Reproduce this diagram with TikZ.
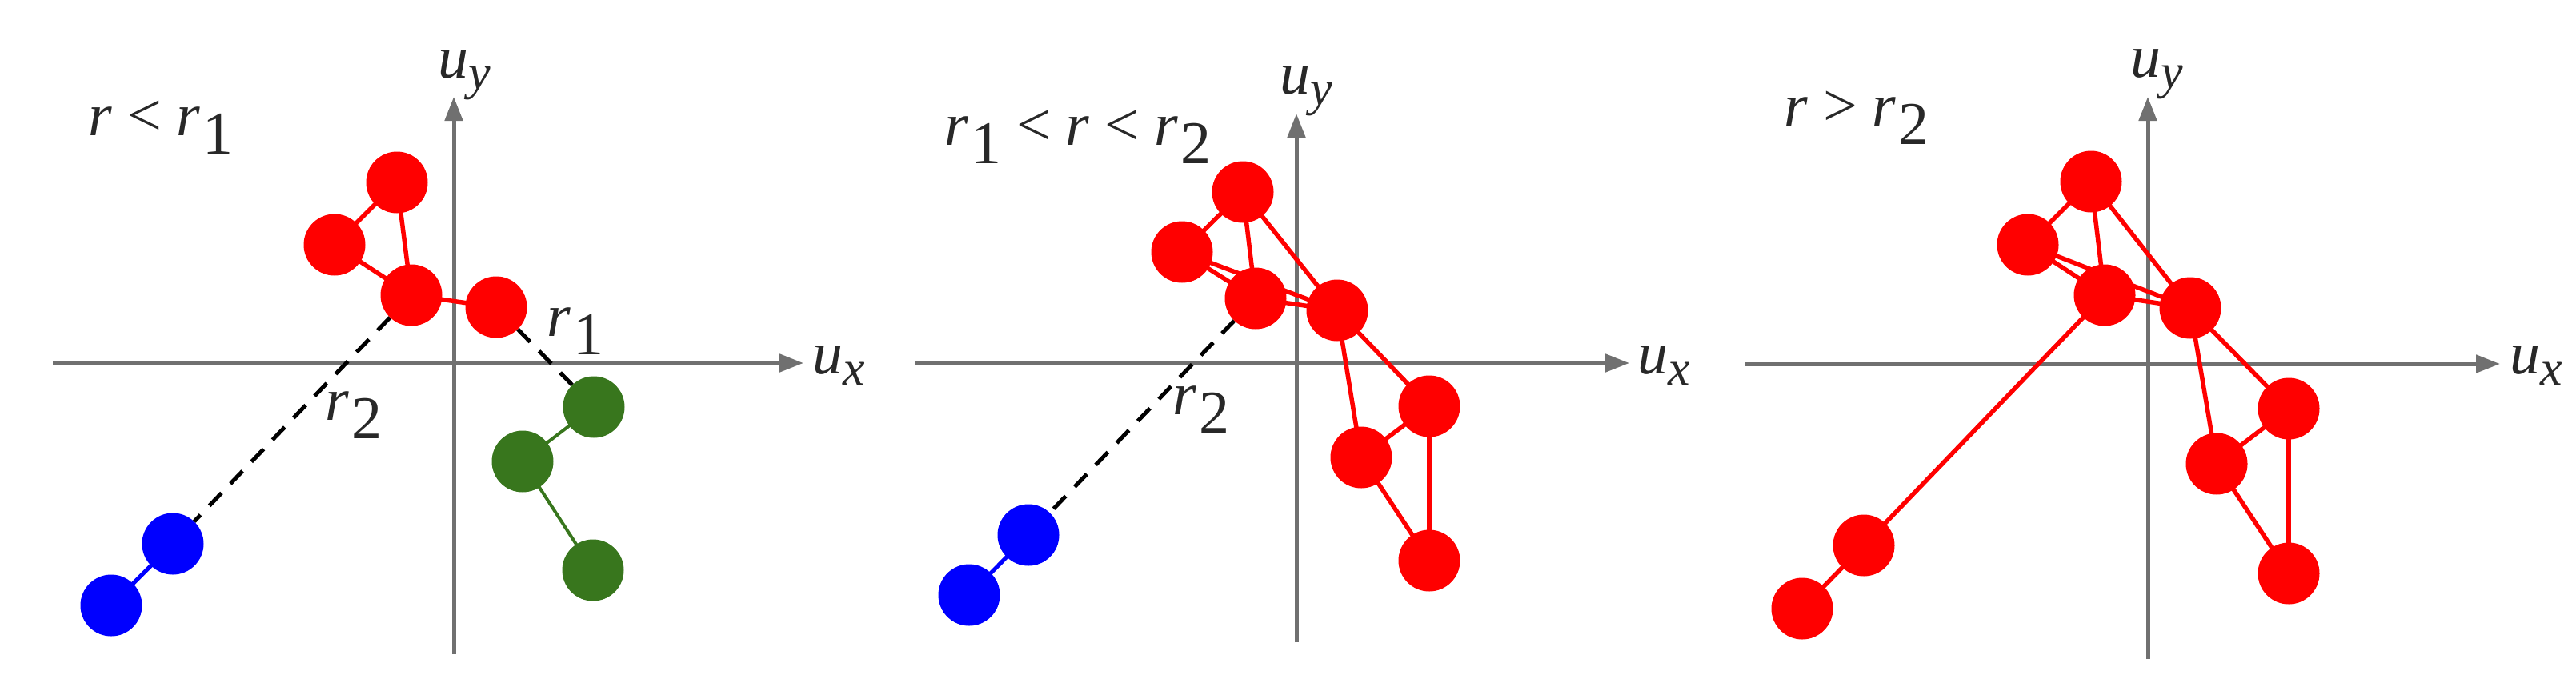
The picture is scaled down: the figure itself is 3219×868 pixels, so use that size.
\documentclass[tikz,border=0pt]{standalone}
\usepackage{fontspec}
\setmainfont{Liberation Serif}[ItalicFont={Liberation Serif Italic},BoldFont={Liberation Serif Bold}]
\usetikzlibrary{arrows.meta}
\pgfdeclarelayer{axeslayer}
\pgfdeclarelayer{edgelayer}
\pgfsetlayers{axeslayer,edgelayer,main}
\definecolor{grn}{RGB}{56,118,29}
\definecolor{axgray}{RGB}{112,112,112}
\definecolor{txt}{RGB}{40,40,40}
\newcommand\bigfont{\fontsize{76pt}{90pt}\selectfont}
\newcommand\lowsub[1]{\kern3pt\raisebox{-23pt}{#1}}
\newcommand\ulabel[1]{\fontsize{76pt}{90pt}\selectfont\textit{u}\raisebox{-14pt}{\fontsize{62pt}{70pt}\selectfont\textit{#1}}}
\begin{document}
\begin{tikzpicture}[x=1pt,y=-1pt,
  ball/.style={circle,minimum size=77pt,inner sep=0pt,draw=none},
  rb/.style={ball,fill=red},
  bb/.style={ball,fill=blue},
  gb/.style={ball,fill=grn},
  axisln/.style={draw=axgray,line width=5pt,-{Triangle[length=30pt,width=22pt]}},
  redln/.style={draw=red,line width=5.5pt},
  blueln/.style={draw=blue,line width=5pt},
  grnln/.style={draw=grn,line width=4pt},
  dashln/.style={draw=black,line width=5pt,dash pattern=on 22pt off 16pt},
  lab/.style={anchor=base west,inner sep=0pt,text=txt,font=\bigfont},
  ulab/.style={anchor=base west,inner sep=0pt,text=txt},
]
\path[use as bounding box] (0,0) rectangle (3219,868);

% ---------- axes coordinates ----------
\coordinate (x1l) at (66,454);   \coordinate (x1r) at (1004,454);
\coordinate (y1b) at (567,818);  \coordinate (y1t) at (567,121);
\coordinate (x2l) at (1143,454); \coordinate (x2r) at (2036,454);
\coordinate (y2b) at (1620,803); \coordinate (y2t) at (1620,142);
\coordinate (x3l) at (2180,455); \coordinate (x3r) at (3124,455);
\coordinate (y3b) at (2684,824); \coordinate (y3t) at (2684,121);

\begin{pgfonlayer}{axeslayer}
\draw[axisln] (x1l) -- (x1r);
\draw[axisln] (y1b) -- (y1t);
\draw[axisln] (x2l) -- (x2r);
\draw[axisln] (y2b) -- (y2t);
\draw[axisln] (x3l) -- (x3r);
\draw[axisln] (y3b) -- (y3t);
\end{pgfonlayer}

% ---------- panel 1 ----------
\node[rb] (a1) at (496,228) {};
\node[rb] (a2) at (418,306) {};
\node[rb] (a3) at (514,369) {};
\node[rb] (a4) at (620,384) {};
\node[bb] (b1) at (216,680) {};
\node[bb] (b2) at (139,757) {};
\node[gb] (g1) at (742,509) {};
\node[gb] (g2) at (653,577) {};
\node[gb] (g3) at (741,713) {};

% ---------- panel 2 ----------
\node[rb] (p2a) at (1553,240) {};
\node[rb] (p2b) at (1477,315) {};
\node[rb] (p2c) at (1569,373) {};
\node[rb] (p2d) at (1671,388) {};
\node[rb] (p2e) at (1786,508) {};
\node[rb] (p2f) at (1701,572) {};
\node[rb] (p2g) at (1786,701) {};
\node[bb] (p2h) at (1285,669) {};
\node[bb] (p2i) at (1211,744) {};

% ---------- panel 3 ----------
\node[rb] (p3a) at (2613,227) {};
\node[rb] (p3b) at (2534,306) {};
\node[rb] (p3c) at (2630,369) {};
\node[rb] (p3d) at (2737,385) {};
\node[rb] (p3e) at (2860,511) {};
\node[rb] (p3f) at (2770,580) {};
\node[rb] (p3g) at (2860,717) {};
\node[rb] (p3h) at (2329,682) {};
\node[rb] (p3i) at (2252,761) {};

\begin{pgfonlayer}{edgelayer}
% panel 1
\draw[redln] (a1.center) -- (a2.center);
\draw[redln] (a1.center) -- (a3.center);
\draw[redln] (a2.center) -- (a3.center);
\draw[redln] (a3.center) -- (a4.center);
\draw[blueln] (b1.center) -- (b2.center);
\draw[grnln] (g1.center) -- (g2.center);
\draw[grnln] (g2.center) -- (g3.center);
\draw[dashln] (a3) -- (b1);
\draw[dashln] (a4) -- (g1);
% panel 2
\draw[redln] (p2a.center) -- (p2b.center);
\draw[redln] (p2a.center) -- (p2c.center);
\draw[redln] (p2a.center) -- (p2d.center);
\draw[redln] (p2b.center) -- (p2c.center);
\draw[redln] (p2b.center) -- (p2d.center);
\draw[redln] (p2c.center) -- (p2d.center);
\draw[redln] (p2d.center) -- (p2e.center);
\draw[redln] (p2d.center) -- (p2f.center);
\draw[redln] (p2e.center) -- (p2f.center);
\draw[redln] (p2e.center) -- (p2g.center);
\draw[redln] (p2f.center) -- (p2g.center);
\draw[blueln] (p2h.center) -- (p2i.center);
\draw[dashln] (p2c) -- (p2h);
% panel 3
\draw[redln] (p3a.center) -- (p3b.center);
\draw[redln] (p3a.center) -- (p3c.center);
\draw[redln] (p3a.center) -- (p3d.center);
\draw[redln] (p3b.center) -- (p3c.center);
\draw[redln] (p3b.center) -- (p3d.center);
\draw[redln] (p3c.center) -- (p3d.center);
\draw[redln] (p3d.center) -- (p3e.center);
\draw[redln] (p3d.center) -- (p3f.center);
\draw[redln] (p3e.center) -- (p3f.center);
\draw[redln] (p3e.center) -- (p3g.center);
\draw[redln] (p3f.center) -- (p3g.center);
\draw[redln] (p3c.center) -- (p3h.center);
\draw[redln] (p3h.center) -- (p3i.center);
\end{pgfonlayer}

% ---------- labels ----------
\node[lab] (t1) at (110,169) {\textit{r} < \textit{r}\lowsub{1}};
\node[lab] (t2) at (1180,181) {\textit{r}\lowsub{1} < \textit{r} < \textit{r}\lowsub{2}};
\node[lab] (t3) at (2229,157) {\textit{r} > \textit{r}\lowsub{2}};

\node[lab] (r1a) at (683,420) {\textit{r}\lowsub{1}};
\node[lab] (r2a) at (406,525) {\textit{r}\lowsub{2}};
\node[lab] (r2b) at (1465,518) {\textit{r}\lowsub{2}};

\node[ulab] (uy1) at (547,97) {\ulabel{y}};
\node[ulab] (uy2) at (1599,117) {\ulabel{y}};
\node[ulab] (uy3) at (2662,96) {\ulabel{y}};
\node[ulab] (ux1) at (1015,467) {\ulabel{x}};
\node[ulab] (ux2) at (2046,467) {\ulabel{x}};
\node[ulab] (ux3) at (3136,467) {\ulabel{x}};
\end{tikzpicture}
\end{document}
